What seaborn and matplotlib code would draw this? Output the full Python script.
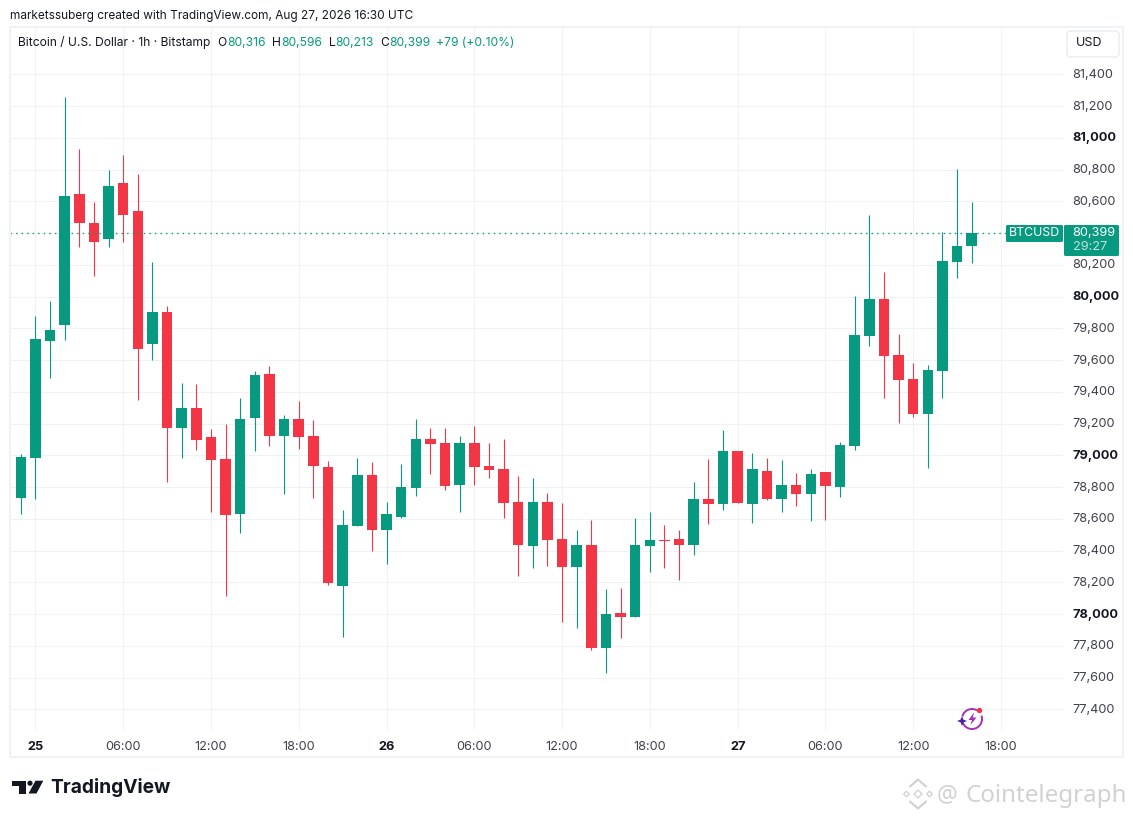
import matplotlib
matplotlib.use("Agg")
import matplotlib.pyplot as plt
from matplotlib.patches import Arc, Circle, FancyBboxPatch, Polygon, Rectangle
from matplotlib.transforms import ScaledTranslation
import pandas as pd
import seaborn as sns

# hourly candles, hour 0 = Aug 25 00:00
hours = list(range(-2, 65))
opens = [78977, 78733, 78985, 79722, 79823, 80646, 80463, 80365, 80715, 80539,
         79703, 79903, 79175, 79298, 79116, 78977, 78633, 79238, 79513, 79124,
         79229, 79122, 78927, 78179, 78557, 78876, 78532, 78614, 78797, 79103,
         79078, 78815, 79078, 78933, 78914, 78706, 78431, 78706, 78473, 78299,
         78435, 77789, 78007, 77984, 78431, 78467, 78473, 78437, 78725, 78696,
         79028, 78696, 78902, 78727, 78813, 78759, 78895, 78803, 79061, 79752,
         79983, 79630, 79479, 79261, 79532, 80218, 80316]
highs = [78977, 79009, 79878, 79972, 81257, 80930, 80596, 80797, 80892, 80772,
         80218, 79940, 79456, 79450, 79166, 79198, 79361, 79532, 79563, 79254,
         79343, 79223, 78965, 78656, 78983, 78958, 78706, 78946, 79229, 79172,
         79172, 79122, 79185, 79078, 79103, 78870, 78857, 78763, 78700, 78530,
         78593, 78158, 78164, 78605, 78643, 78561, 78530, 78832, 78977, 79160,
         79028, 79015, 78983, 78971, 78889, 78914, 78895, 79084, 80002, 80512,
         80153, 79763, 79580, 79567, 80405, 80806, 80596]
lows = [78733, 78633, 78727, 79489, 79726, 80314, 80132, 80314, 80346, 79349,
        79602, 78834, 78985, 79036, 78645, 78116, 78513, 79030, 79061, 78759,
        79042, 78734, 78185, 77858, 78557, 78400, 78318, 78607, 78746, 78885,
        78784, 78645, 78815, 78860, 78607, 78242, 78292, 78303, 77952, 77915,
        77776, 77631, 77852, 77984, 78267, 78292, 78217, 78374, 78570, 78658,
        78702, 78576, 78719, 78645, 78683, 78589, 78595, 78740, 79036, 79689,
        79361, 79204, 79242, 78923, 79361, 80117, 80213]
closes = [78733, 78990, 79733, 79789, 80634, 80466, 80346, 80696, 80516, 79672,
          79903, 79175, 79298, 79099, 78973, 78626, 79229, 79506, 79124, 79229,
          79118, 78935, 78198, 78561, 78876, 78532, 78631, 78801, 79103, 79074,
          78809, 79078, 78929, 78910, 78702, 78437, 78706, 78469, 78299, 78435,
          77789, 78001, 77984, 78435, 78467, 78463, 78437, 78725, 78696, 79028,
          78702, 78914, 78727, 78813, 78759, 78883, 78809, 79065, 79756, 79983,
          79626, 79475, 79261, 79536, 80222, 80317, 80399]

last_price = 80399
price_ticks = list(range(77400, 81600, 200))
bold_prices = [78000, 79000, 80000, 81000]
time_ticks = [0, 6, 12, 18, 24, 30, 36, 42, 48, 54, 60, 66]
time_labels = ['25', '06:00', '12:00', '18:00', '26', '06:00', '12:00', '18:00', '27', '06:00', '12:00', '18:00']
bold_times = ['25', '26', '27']

GREEN = '#089981'
RED = '#F23645'
GRID = '#F0F1F3'
INK = '#131722'
TICK = '#3F424D'

sns.set_theme(style='white')
plt.rcParams['font.family'] = ['Inter', 'DejaVu Sans']

df = pd.DataFrame({'hour': hours, 'open': opens, 'high': highs, 'low': lows, 'close': closes})
df['dir'] = ['up' if c >= o else 'down' for o, c in zip(df['open'], df['close'])]
df['height'] = (df['close'] - df['open']).abs()
df['bottom'] = df[['open', 'close']].min(axis=1)

fig = plt.figure(figsize=(11.33, 8.18), dpi=100, facecolor='white')
W, H = 1133, 818
ax = fig.add_axes([10 / W, (H - 730) / H, 1053 / W, 703 / H])

# wicks, one short line per hour
wicks = pd.concat([df[['hour', 'dir']].assign(price=df['high']), df[['hour', 'dir']].assign(price=df['low'])])
sns.lineplot(data=wicks, x='hour', y='price', hue='dir', units='hour', estimator=None,
             palette={'up': GREEN, 'down': RED}, linewidth=0.8, legend=False, ax=ax,
             solid_capstyle='butt', zorder=3)

# candle bodies
for name, colour in [('up', GREEN), ('down', RED)]:
    sub = df[df['dir'] == name]
    sns.barplot(data=sub, x='hour', y='height', bottom=sub['bottom'].values, native_scale=True,
                color=colour, saturation=1, width=0.72, errorbar=None, linewidth=0, zorder=4, ax=ax)

ax.axhline(last_price, color=GREEN, linewidth=1.0, linestyle=(0, (1, 3)), zorder=5)

ax.set_xlim(-1.736, 70.24)
ax.set_ylim(77270, 81698)
ax.set_xlabel('')
ax.set_ylabel('')
ax.yaxis.tick_right()
ax.set_yticks(price_ticks)
ax.set_yticklabels([f'{p:,}' for p in price_ticks])
ax.set_xticks(time_ticks)
ax.set_xticklabels(time_labels)
ax.tick_params(axis='both', length=0, labelsize=9.2)
ax.tick_params(axis='y', pad=6.8, labelcolor=TICK)
ax.tick_params(axis='x', pad=8, labelcolor=TICK)
nudge = ScaledTranslation(0, 1.0 / 100, fig.dpi_scale_trans)
for lab, p in zip(ax.get_yticklabels(), price_ticks):
    lab.set_transform(lab.get_transform() + nudge)
    if p in bold_prices:
        lab.set_fontweight('bold')
        lab.set_color(INK)
for lab, t in zip(ax.get_xticklabels(), time_labels):
    if t in bold_times:
        lab.set_fontweight('bold')
        lab.set_color(INK)
ax.grid(True, color=GRID, linewidth=0.75)
ax.set_axisbelow(True)
sns.despine(ax=ax, left=True, bottom=True, right=True, top=True)

# overlay in image pixels for the TradingView furniture
ov = fig.add_axes([0, 0, 1, 1], facecolor='none', zorder=10)
ov.set_xlim(0, W)
ov.set_ylim(H, 0)
ov.axis('off')

ov.add_patch(Rectangle((9.5, 26.5), 1113.5, 730.5, fill=False, edgecolor='#F0F2F5', linewidth=1.5))
ov.text(10, 15.5, 'marketssuberg created with TradingView.com, Aug 27, 2026 16:30 UTC',
        fontsize=8.52, color=INK, va='center')

# legend row
ov.text(18, 42.5, 'Bitcoin / U.S. Dollar · 1h · Bitstamp', fontsize=8.7, color=INK, va='center')
for x, s, c in [(217, 'O', INK), (227, '80,316', GREEN), (272, 'H', INK), (281.5, '80,596', GREEN),
                (328.5, 'L', INK), (335.5, '80,213', GREEN), (380, 'C', INK), (389.5, '80,399', GREEN),
                (436.5, '+79 (+0.10%)', GREEN)]:
    ov.text(x, 42.5, s, fontsize=8.7, color=c, va='center')

# USD button
ov.add_patch(FancyBboxPatch((1067, 31), 52, 26, boxstyle='round,pad=0,rounding_size=4',
                            fill=False, edgecolor='#E9EBF0', linewidth=1))
ov.text(1089, 43, 'USD', fontsize=9, color=INK, ha='center', va='center')

# last price tags
ov.add_patch(FancyBboxPatch((1006, 225), 57, 17, boxstyle='round,pad=0,rounding_size=1.5', color=GREEN, linewidth=0))
ov.add_patch(FancyBboxPatch((1064, 225), 55, 31, boxstyle='round,pad=0,rounding_size=1.5', color=GREEN, linewidth=0))
ov.text(1034.5, 233.5, 'BTCUSD', fontsize=8.9, color='white', ha='center', va='center')
ov.text(1072.5, 233, '80,399', fontsize=9.2, color='white', va='center')
ov.text(1072.5, 247, '29:27', fontsize=9.2, color='#BFE3DB', va='center')

# spark icon
ov.add_patch(Arc((972, 719), 20, 20, theta1=-20, theta2=165, color='#A62FB8', linewidth=1.4))
ov.add_patch(Arc((972, 719), 20, 20, theta1=195, theta2=300, color='#A62FB8', linewidth=1.4))
ov.add_patch(Polygon([(974, 712.5), (968.5, 720), (972, 720), (970.5, 725), (976.5, 717.5), (972.8, 717.5)], color='#A62FB8', linewidth=0))
ov.add_patch(Polygon([(962, 716), (963.4, 719.6), (967, 721), (963.4, 722.4), (962, 726), (960.6, 722.4), (957, 721), (960.6, 719.6)], color='#4B1FA6', linewidth=0))
ov.add_patch(Circle((979.5, 710.5), 2.7, color=RED, linewidth=0))

# TradingView logo
ov.add_patch(Polygon([(12.3, 780.7), (25.7, 780.7), (25.7, 793.5), (18.5, 793.5), (18.5, 786), (12.3, 786)], color=INK, linewidth=0))
ov.add_patch(Circle((30, 783.2), 2.6, color=INK, linewidth=0))
ov.add_patch(Polygon([(35.5, 780.7), (43.3, 780.7), (36.5, 793.5), (28.5, 793.5)], color=INK, linewidth=0))
ov.text(50, 793, 'TradingView', fontsize=13.8, fontweight='bold', color=INK, va='baseline')

# watermark
wm = '#D2D2D2'
cx, cy = 918, 794
for dx, dy, half in [(0, 0, 4), (-11.5, 0, 2.8), (11.5, 0, 2.8)]:
    ov.add_patch(Polygon([(cx + dx, cy + dy - half), (cx + dx + half, cy + dy), (cx + dx, cy + dy + half), (cx + dx - half, cy + dy)],
                         facecolor='white', edgecolor=wm, linewidth=1))
for sign in [-1, 1]:
    ov.plot([cx - 8, cx, cx + 8], [cy + sign * 7.5, cy + sign * 14.5, cy + sign * 7.5], color=wm, linewidth=1.6)
ov.text(937, 795, '@', fontsize=16.5, color=wm, va='center', family=['Noto Sans'])
ov.text(965.5, 795.5, 'Cointelegraph', fontsize=17.4, color=wm, va='center', family=['Noto Sans'])
ov.set_xlim(0, W)
ov.set_ylim(H, 0)

fig.savefig('out.png', dpi=100, facecolor='white')
